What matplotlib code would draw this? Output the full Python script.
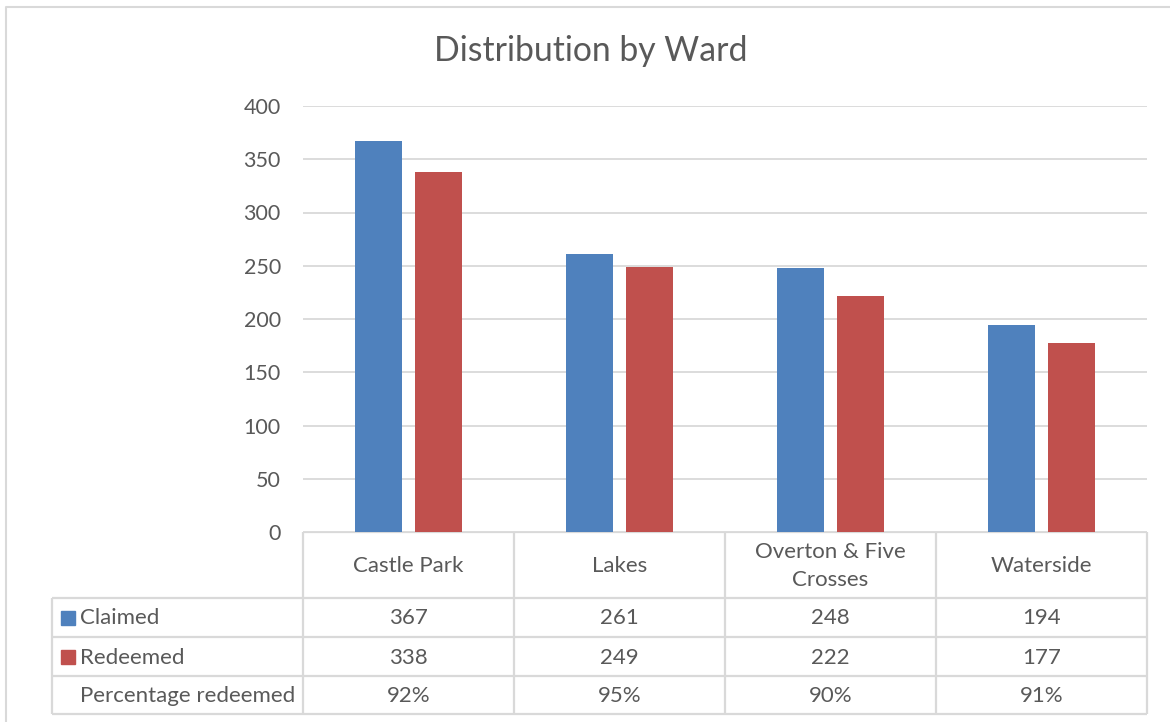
import numpy as np
import matplotlib.pyplot as plt

plt.rcParams['font.family'] = ['Lato', 'DejaVu Sans']

wards = ["Castle Park", "Lakes", "Overton & Five\nCrosses", "Waterside"]
claimed = [367, 261, 248, 194]
redeemed = [338, 249, 222, 177]
pct_redeemed = ["92%", "95%", "90%", "91%"]
series = ["Claimed", "Redeemed", "Percentage redeemed"]
yticks = [0, 50, 100, 150, 200, 250, 300, 350, 400]

BLUE = "#4F81BD"
RED = "#C0504D"
TXT = "#595959"
GRID = "#D9D9D9"

W, H = 1170, 722
fig = plt.figure(figsize=(W / 100, H / 100), dpi=100)

# overlay axes in pixel coords for the frame + data table
ov = fig.add_axes([0, 0, 1, 1])
ov.set_xlim(0, W)
ov.set_ylim(H, 0)
ov.axis("off")

# chart area frame (only left/top visible in the crop)
ov.plot([6, 6, W + 5], [H + 5, 7, 7], color=GRID, lw=1.5)

# plot area
x0, x1, ytop, ybot = 303, 1147, 106, 532
ax = fig.add_axes([x0 / W, 1 - ybot / H, (x1 - x0) / W, (ybot - ytop) / H])
n = len(wards)
x = np.arange(n) + 0.5
off, bw = 0.142, 0.223
ax.bar(x - off, claimed, bw, color=BLUE, zorder=3)
ax.bar(x + off, redeemed, bw, color=RED, zorder=3)
ax.set_xlim(0, n)
ax.set_ylim(0, 400)
ax.set_yticks(yticks)
ax.yaxis.grid(True, color=GRID, lw=1.3)
ax.set_axisbelow(True)
ax.set_xticks([])
for s in ax.spines.values():
    s.set_visible(False)
ax.tick_params(axis="y", length=0, pad=16, labelsize=15.5, labelcolor=TXT)

fig.text(591 / W, 1 - 51 / H, "Distribution by Ward", ha="center", va="center",
         fontsize=24.3, color=TXT)

# data table
colw = (x1 - x0) / n
tl = 52
rows_y = [532, 598, 637, 676, 714]
lc = dict(color=GRID, lw=1.6, solid_capstyle="butt")
for i in range(n + 1):
    xx = x0 + i * colw
    ov.plot([xx, xx], [rows_y[0], rows_y[-1]], **lc)
ov.plot([tl, tl], [rows_y[1], rows_y[-1]], **lc)
ov.plot([x0, x1], [rows_y[0], rows_y[0]], **lc)
for yy in rows_y[1:]:
    ov.plot([tl, x1], [yy, yy], **lc)

fs = 16
for i, w in enumerate(wards):
    ov.text(x0 + (i + 0.5) * colw, (rows_y[0] + rows_y[1]) / 2 + 1, w, ha="center",
            va="center", fontsize=fs, color=TXT, linespacing=1.55)

table_vals = [claimed, redeemed, pct_redeemed]
keys = [BLUE, RED, None]
for r, (name, vals, kc) in enumerate(zip(series, table_vals, keys)):
    yc = (rows_y[r + 1] + rows_y[r + 2]) / 2 + 1
    if kc is not None:
        ov.add_patch(plt.Rectangle((61, yc - 8), 14, 14, color=kc))
    ov.text(80, yc, name, ha="left", va="center", fontsize=fs, color=TXT)
    for i, v in enumerate(vals):
        ov.text(x0 + (i + 0.5) * colw, yc, str(v), ha="center", va="center",
                fontsize=fs, color=TXT)

fig.savefig("out.png", dpi=100)
